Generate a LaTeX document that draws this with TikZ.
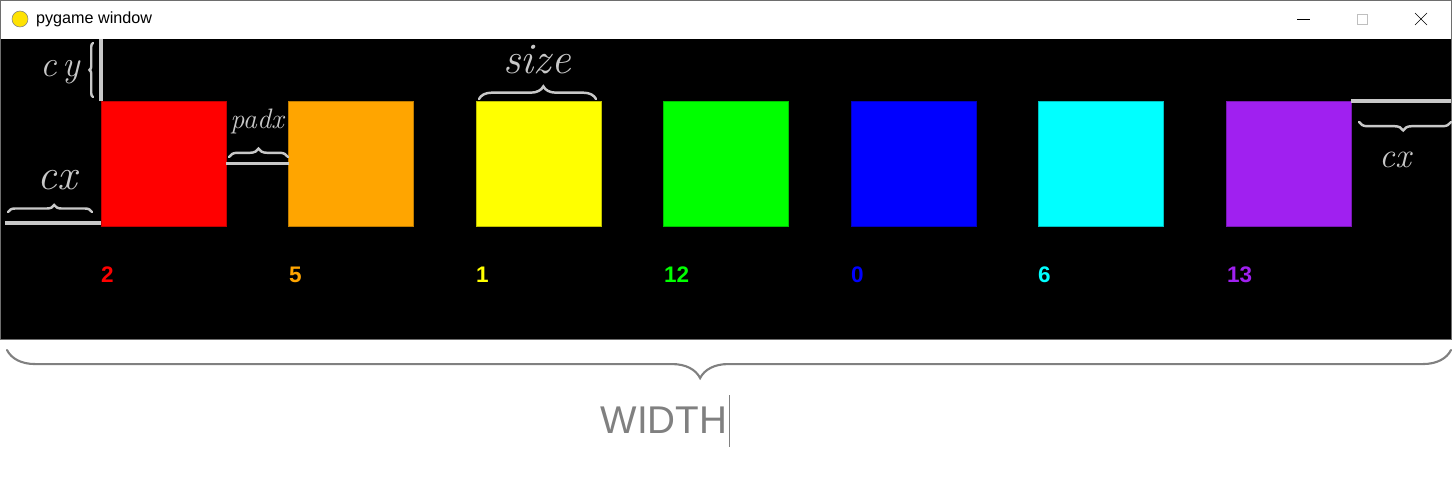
\documentclass[tikz,border=0pt]{standalone}
\usepackage{fontspec}
\setsansfont{Liberation Sans}
\usepackage{tikz}
\usetikzlibrary{positioning, decorations.pathreplacing}
\definecolor{sqred}{HTML}{FF0000}
\definecolor{sqorange}{HTML}{FFA500}
\definecolor{sqyellow}{HTML}{FFFF00}
\definecolor{sqgreen}{HTML}{00FF00}
\definecolor{sqblue}{HTML}{0000FF}
\definecolor{sqcyan}{HTML}{00FFFF}
\definecolor{sqpurple}{HTML}{A020F0}
\definecolor{chalk}{HTML}{C8C8C8}
\definecolor{pencil}{HTML}{808080}
\definecolor{frame}{HTML}{6E6E6E}

\begin{document}
\begin{tikzpicture}[x=0.05cm, y=-0.05cm,
    box/.style={minimum size=6.25cm, inner sep=0pt, outer sep=0pt, fill=#1, draw=#1!75!black, line width=0.6pt},
    num/.style={text=#1, anchor=west, inner sep=0pt, font=\sffamily\bfseries\fontsize{32}{34}\selectfont},
    guide/.style={draw=chalk, line width=5.5pt},
    curly/.style={draw=#1, line width=3.5pt, line cap=round, decorate},
    hand/.style={text=chalk, inner sep=0pt, font=\itshape\fontsize{#1}{#1}\selectfont}]
  \useasboundingbox[fill=white] (0,0) rectangle (1452,487);

  % window and title bar
  \draw[frame, line width=1pt, fill=white] (0.5,0.5) rectangle (1451.5,339.5);
  \node[fill=black, minimum width=72.5cm, minimum height=15cm, inner sep=0pt] (screen) at (726,189) {};
  \node[circle, fill=yellow!85!orange, draw=gray, line width=0.8pt, minimum size=0.8cm, inner sep=0pt] (icon) at (20,19) {};
  \node[anchor=west, inner sep=0pt, font=\sffamily\fontsize{23}{25}\selectfont] (title) at (36,19) {pygame window};
  \draw[line width=0.9pt] (1297,19) -- (1310,19);
  \draw[gray!50, line width=0.9pt] (1357,14) rectangle (1367,24);
  \draw[line width=0.9pt] (1415,13) -- (1427,25) (1415,25) -- (1427,13);

  % squares
  \node[box=sqred] (red) at (163.5,163.5) {};
  \node[box=sqorange] (orange) at (351,163.5) {};
  \node[box=sqyellow] (yellow) at (538.5,163.5) {};
  \node[box=sqgreen] (green) at (726,163.5) {};
  \node[box=sqblue] (blue) at (913.5,163.5) {};
  \node[box=sqcyan] (cyan) at (1101,163.5) {};
  \node[box=sqpurple] (purple) at (1288.5,163.5) {};

  % numbers
  \node[num=sqred] (n2) at (101,275) {2};
  \node[num=sqorange] (n5) at (289,275) {5};
  \node[num=sqyellow] (n1) at (476,275) {1};
  \node[num=sqgreen] (n12) at (664,275) {12};
  \node[num=sqblue] (n0) at (851,275) {0};
  \node[num=sqcyan] (n6) at (1038,275) {6};
  \node[num=sqpurple] (n13) at (1227,275) {13};

  % chalk notes
  \coordinate (cxl) at (5,223);
  \draw[guide] (red.north west) -- (red.north west |- screen.north);
  \draw[guide] (cxl) -- (cxl -| red.west);
  \draw[guide] (red.east) -- (orange.west);
  \draw[guide] (purple.north east) -- (purple.north east -| screen.east);

  \draw[curly=chalk, decoration={brace, amplitude=5pt}] (93,97) -- (93,43);
  \node[hand=52] (cy) at (60,72) {c\,y};
  \draw[curly=chalk, decoration={brace, amplitude=10pt, aspect=0.55}] (8,212) -- (92,212);
  \node[hand=62] (cxa) at (57,180) {cx};
  \draw[curly=chalk, decoration={brace, amplitude=12pt}] (229,157) -- (288,157);
  \node[hand=40] (padx) at (257,121) {padx};
  \draw[curly=chalk, decoration={brace, amplitude=18pt, aspect=0.55}] (479,99) -- (596,99);
  \node[hand=62] (size) at (537,60) {size};
  \draw[curly=chalk, decoration={brace, amplitude=12pt, aspect=0.52}] (1451,122) -- (1359,122);
  \node[hand=50] (cxb) at (1395,160) {cx};

  % width of the window
  \draw[curly=pencil, line width=3pt, decoration={brace, amplitude=40pt, aspect=0.52}] (1451,350) -- (7,350);
  \node[text=pencil, inner sep=0pt, font=\sffamily\fontsize{55}{57}\selectfont] (width) at (664,420) {WIDTH};
  \draw[pencil, line width=1.2pt] (width.east |- 0,395) ++(2,0) -- ++(0,52);
\end{tikzpicture}
\end{document}
